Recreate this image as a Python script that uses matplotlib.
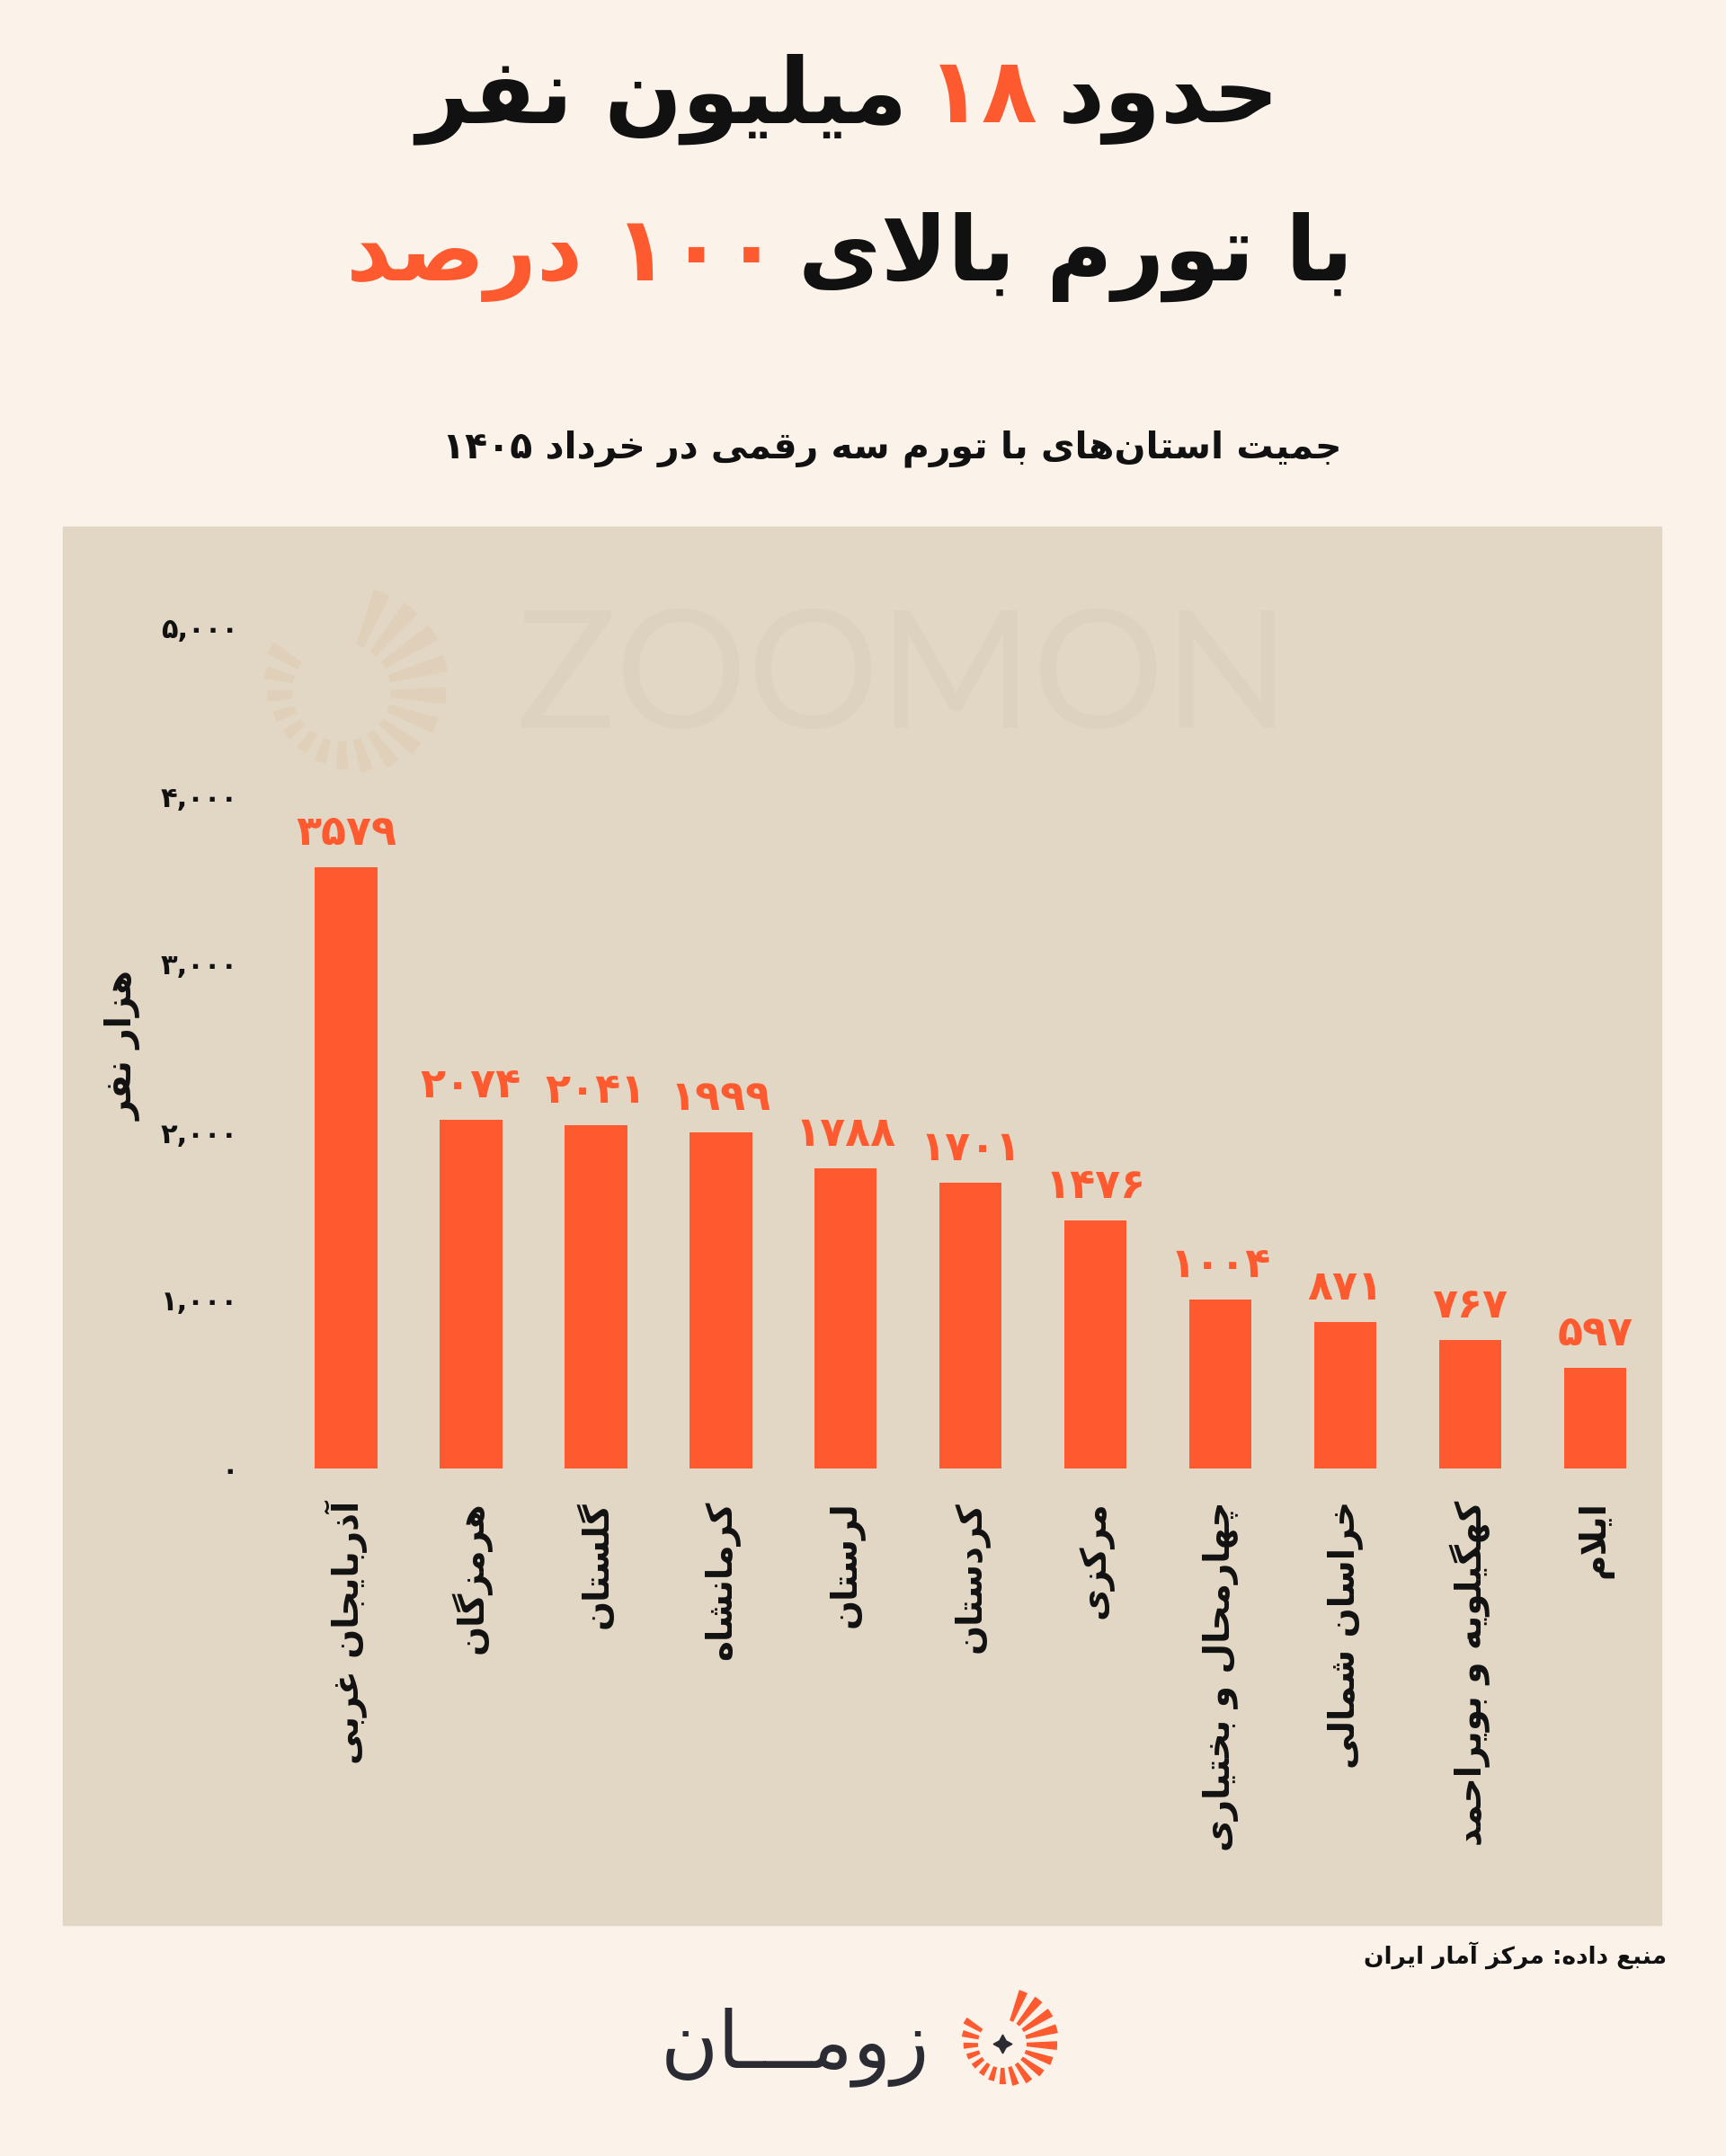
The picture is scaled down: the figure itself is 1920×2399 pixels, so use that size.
import re
import numpy as np
import matplotlib
matplotlib.use("Agg")
import matplotlib.pyplot as plt
from matplotlib.patches import Rectangle, Wedge

plt.rcParams['font.family'] = ['DejaVu Sans']

# ---------------- data ----------------
provinces = ['آذربایجان غربی', 'هرمزگان', 'گلستان', 'کرمانشاه', 'لرستان', 'کردستان',
             'مرکزی', 'چهارمحال و بختیاری', 'خراسان شمالی', 'کهگیلویه و بویراحمد', 'ایلام']
population = [3579, 2074, 2041, 1999, 1788, 1701, 1476, 1004, 871, 767, 597]
yticks = [0, 1000, 2000, 3000, 4000, 5000]

title1 = [('حدود', 'k'), ('۱۸', 'o'), ('میلیون نفر', 'k')]
title2 = [('با تورم بالای', 'k'), ('۱۰۰ درصد', 'o')]
subtitle = 'جمیت استان‌های با تورم سه رقمی در خرداد ۱۴۰۵'
ylabel = 'هزار نفر'
source = 'منبع داده: مرکز آمار ایران'
brand = 'زومـــان'

ORANGE = '#FE5A30'
BLACK = '#111111'
BG = '#FBF3EA'
PANEL = '#E2D7C4'

# ---------------- persian text helpers ----------------
# isolated, final, initial, medial (None = joins only to the right)
AR = {
    'آ': ('\ufe81', '\ufe82', None, None),
    'ا': ('\ufe8d', '\ufe8e', None, None),
    'ب': ('\ufe8f', '\ufe90', '\ufe91', '\ufe92'),
    'پ': ('\ufb56', '\ufb57', '\ufb58', '\ufb59'),
    'ت': ('\ufe95', '\ufe96', '\ufe97', '\ufe98'),
    'ث': ('\ufe99', '\ufe9a', '\ufe9b', '\ufe9c'),
    'ج': ('\ufe9d', '\ufe9e', '\ufe9f', '\ufea0'),
    'چ': ('\ufb7a', '\ufb7b', '\ufb7c', '\ufb7d'),
    'ح': ('\ufea1', '\ufea2', '\ufea3', '\ufea4'),
    'خ': ('\ufea5', '\ufea6', '\ufea7', '\ufea8'),
    'د': ('\ufea9', '\ufeaa', None, None),
    'ذ': ('\ufeab', '\ufeac', None, None),
    'ر': ('\ufead', '\ufeae', None, None),
    'ز': ('\ufeaf', '\ufeb0', None, None),
    'ژ': ('\ufb8a', '\ufb8b', None, None),
    'س': ('\ufeb1', '\ufeb2', '\ufeb3', '\ufeb4'),
    'ش': ('\ufeb5', '\ufeb6', '\ufeb7', '\ufeb8'),
    'ص': ('\ufeb9', '\ufeba', '\ufebb', '\ufebc'),
    'ض': ('\ufebd', '\ufebe', '\ufebf', '\ufec0'),
    'ط': ('\ufec1', '\ufec2', '\ufec3', '\ufec4'),
    'ظ': ('\ufec5', '\ufec6', '\ufec7', '\ufec8'),
    'ع': ('\ufec9', '\ufeca', '\ufecb', '\ufecc'),
    'غ': ('\ufecd', '\ufece', '\ufecf', '\ufed0'),
    'ف': ('\ufed1', '\ufed2', '\ufed3', '\ufed4'),
    'ق': ('\ufed5', '\ufed6', '\ufed7', '\ufed8'),
    'ک': ('\ufb8e', '\ufb8f', '\ufb90', '\ufb91'),
    'گ': ('\ufb92', '\ufb93', '\ufb94', '\ufb95'),
    'ل': ('\ufedd', '\ufede', '\ufedf', '\ufee0'),
    'م': ('\ufee1', '\ufee2', '\ufee3', '\ufee4'),
    'ن': ('\ufee5', '\ufee6', '\ufee7', '\ufee8'),
    'و': ('\ufeed', '\ufeee', None, None),
    'ه': ('\ufee9', '\ufeea', '\ufeeb', '\ufeec'),
    'ی': ('\ufbfc', '\ufbfd', '\ufbfe', '\ufbff'),
    'ـ': ('ـ', 'ـ', 'ـ', 'ـ'),
}
LAMALEF = {'ا': ('\ufefb', '\ufefc'), 'آ': ('\ufef5', '\ufef6')}


def joins_left(c):
    return c in AR and AR[c][2] is not None


def shape(s):
    out = []
    i = 0
    while i < len(s):
        c = s[i]
        if c not in AR:
            out.append(c)
            i += 1
            continue
        after = i > 0 and joins_left(s[i - 1])
        nxt = s[i + 1] if i + 1 < len(s) else ''
        if c == 'ل' and nxt in LAMALEF:
            out.append(LAMALEF[nxt][1] if after else LAMALEF[nxt][0])
            i += 2
            continue
        before = joins_left(c) and nxt in AR
        iso, fin, ini, med = AR[c]
        out.append(med if after and before else fin if after else ini if before else iso)
        i += 1
    return ''.join(out).replace('\u200c', '')


def fa(s):
    # shape then put in visual (left-to-right) order, keeping numbers LTR
    runs = re.findall(r'\d+(?:[.,]\d+)*|\D+', shape(s))
    return ''.join(r if r[0].isdigit() else r[::-1] for r in reversed(runs))


def fa_num(n, sep=False):
    s = f'{n:,}' if sep else str(n)
    return s.translate(str.maketrans('0123456789', '۰۱۲۳۴۵۶۷۸۹'))


# ---------------- figure ----------------
W, H = 1920, 2399
fig = plt.figure(figsize=(W / 100, H / 100), dpi=100, facecolor=BG)


def fx(px):
    return px / W


def fy(py):
    return 1 - py / H


fig.patches.append(Rectangle((fx(70), fy(2142)), fx(1848) - fx(70), fy(586) - fy(2142),
                             transform=fig.transFigure, color=PANEL, zorder=0))


def sunburst(ax, cx, cy, r_in, r_out, color, alpha=1.0, n=17, half=4.6):
    angles = np.linspace(-68, 212, n)
    for a in angles:
        ro = r_out * (0.82 + 0.18 * np.cos(np.radians(a + 40)))
        ax.add_patch(Wedge((cx, cy), ro, a - half, a + half, width=ro - r_in,
                           color=color, alpha=alpha, lw=0))


# watermark
wm = fig.add_axes([0, 0, 1, 1], zorder=1)
wm.set_xlim(0, W)
wm.set_ylim(H, 0)
wm.set_aspect('equal')
wm.axis('off')
sunburst(wm, 380, 770, 55, 122, '#E0C9AC', alpha=0.45)
wm.text(1005, 758, 'ZOOMON', fontsize=132, family='Lato', fontweight='normal',
        color='#D6CCBA', alpha=0.45, ha='center', va='center')

# main axes
ax = fig.add_axes([fx(290), fy(1634), fx(1848) - fx(290), fy(699) - fy(1634)], zorder=2)
ax.patch.set_alpha(0)
x = np.arange(len(provinces))
ax.bar(x, population, width=0.5, color=ORANGE, zorder=3)
ax.set_xlim(-0.684, 10.53)
ax.set_ylim(0, 5000)
for s in ax.spines.values():
    s.set_visible(False)
ax.set_yticks(yticks)
ax.set_yticklabels([fa_num(v, sep=True) for v in yticks], fontsize=22, fontweight='bold')
ax.set_xticks(x)
ax.set_xticklabels([fa(p) for p in provinces], rotation=90, fontsize=28, fontweight='bold',
                   va='top', ha='center')
ax.tick_params(axis='y', length=0, pad=18, colors=BLACK)
ax.tick_params(axis='x', length=0, pad=26, colors=BLACK)
for xi, v in zip(x, population):
    ax.text(xi, v + 80, fa_num(v), ha='center', va='bottom', color=ORANGE,
            fontsize=33, fontweight='bold')

fig.text(fx(138), fy(1163), fa(ylabel), rotation=90, fontsize=28, fontweight='bold',
         ha='center', va='center', color=BLACK)

# titles (mixed colours, right-to-left)
renderer = fig.canvas.get_renderer()


def rtl_line(parts, cx, base, size):
    items = []
    for txt, col in parts:
        t = fig.text(0, fy(base), fa(txt), fontsize=size, fontweight='bold',
                     color=ORANGE if col == 'o' else BLACK, ha='right', va='baseline')
        items.append((t, t.get_window_extent(renderer).width))
    gap = size * 0.3
    total = sum(w for _, w in items) + gap * (len(items) - 1)
    right = cx + total / 2
    for t, w in items:
        t.set_x(fx(right))
        right -= w + gap


rtl_line(title1, 943, 136, 73)
rtl_line(title2, 945, 312, 72)

fig.text(fx(1492), fy(510), fa(subtitle), fontsize=29.5, fontweight='bold',
         ha='right', va='baseline', color=BLACK)
fig.text(fx(1854), fy(2185), fa(source), fontsize=19, fontweight='bold',
         ha='right', va='baseline', color=BLACK)

# brand logo
lg = fig.add_axes([0, 0, 1, 1], zorder=3)
lg.set_xlim(0, W)
lg.set_ylim(H, 0)
lg.set_aspect('equal')
lg.axis('off')
sunburst(lg, 1115, 2274, 27, 64, ORANGE)
lg.plot([1115], [2274], marker=(4, 1, 0), markersize=15, color='#2B2B33')
lg.text(1034, 2300, fa(brand), fontsize=63, color='#2B2B33', ha='right', va='baseline')

fig.savefig('out.png', dpi=100, facecolor=BG)
